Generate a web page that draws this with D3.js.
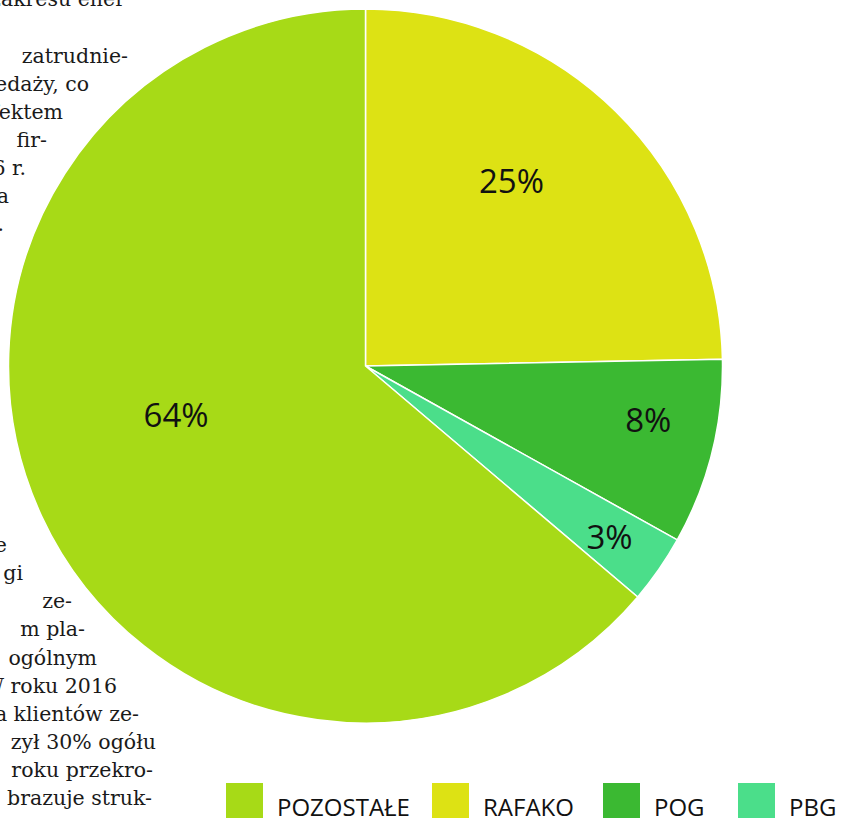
<!DOCTYPE html>
<html>
<head>
<meta charset="utf-8">
<script src="https://cdn.jsdelivr.net/npm/d3@7"></script>
<style>
  body { margin: 0; background: #fff; }
  svg { display: block; }
</style>
</head>
<body>
<div id="chart"></div>
<script>
// Pie data (clockwise from 12 o'clock)
const categories = ["RAFAKO", "POG", "PBG", "POZOSTAŁE"];
const shares = [24.7, 8.4, 3.1, 63.8];
const colors = ["#dde214", "#3bb932", "#4bde8a", "#a7da17"];

// Legend order
const legendOrder = ["POZOSTAŁE", "RAFAKO", "POG", "PBG"];

// Page text left around the chart (fragments of the article column)
const pageText = [
  { t: "zakresu ener", x: 125, y: 6 },
  { t: "zatrudnie-", x: 128, y: 63 },
  { t: "edaży, co", x: 89, y: 91 },
  { t: "fektem", x: 63, y: 119 },
  { t: "fir-", x: 47, y: 147 },
  { t: "6 r.", x: 26, y: 175 },
  { t: "a", x: 9, y: 203 },
  { t: ".", x: 4, y: 231 },
  { t: "e", x: 7, y: 552 },
  { t: "gi", x: 23, y: 580 },
  { t: "ze-", x: 72, y: 608 },
  { t: "m pla-", x: 85, y: 636 },
  { t: "ogólnym", x: 97, y: 665 },
  { t: "W roku 2016", x: 117, y: 693 },
  { t: "a klientów ze-", x: 139, y: 721 },
  { t: "zył 30% ogółu", x: 156, y: 749 },
  { t: "roku przekro-", x: 153, y: 777 },
  { t: "brazuje struk-", x: 152, y: 805 }
];

const W = 850, H = 818;
const cx = 365.5, cy = 366, R = 357;

const svg = d3.select("#chart")
  .append("svg")
  .attr("width", W)
  .attr("height", H);

// Article text behind the pie
svg.append("g")
  .selectAll("text")
  .data(pageText)
  .enter()
  .append("text")
  .attr("x", d => d.x)
  .attr("y", d => d.y)
  .attr("text-anchor", "end")
  .attr("font-family", "DejaVu Serif")
  .attr("font-size", "20.5px")
  .attr("fill", "#1a1a1a")
  .text(d => d.t);

const data = categories.map((c, i) => ({ name: c, value: shares[i], color: colors[i] }));

const pie = d3.pie().sort(null).value(d => d.value);
const arc = d3.arc().innerRadius(0).outerRadius(R);
const labelArc = d3.arc().innerRadius(R * 0.6).outerRadius(R * 0.6);

// Nudges from the label arc centroid (best-fit placement)
const labelNudge = [[-4, -20], [75, 14], [68, 61], [5, -29]];

const g = svg.append("g").attr("transform", `translate(${cx},${cy})`);

const arcs = pie(data);

g.selectAll("path")
  .data(arcs)
  .enter()
  .append("path")
  .attr("d", arc)
  .attr("fill", d => d.data.color)
  .attr("stroke", "#fff")
  .attr("stroke-width", 1.5);

g.selectAll(".label")
  .data(arcs)
  .enter()
  .append("text")
  .attr("class", "label")
  .attr("x", (d, i) => labelArc.centroid(d)[0] + labelNudge[i][0])
  .attr("y", (d, i) => labelArc.centroid(d)[1] + labelNudge[i][1])
  .attr("text-anchor", "middle")
  .attr("font-family", "Open Sans")
  .attr("font-size", "33px")
  .attr("fill", "#111")
  .text(d => Math.round(d.data.value) + "%");

// Legend (item spacing follows label widths)
const legendPos = { "POZOSTAŁE": 226, "RAFAKO": 432, "POG": 603, "PBG": 738 };

const legend = svg.append("g")
  .selectAll("g")
  .data(legendOrder)
  .enter()
  .append("g")
  .attr("transform", d => `translate(${legendPos[d]},783)`);

legend.append("rect")
  .attr("width", 37)
  .attr("height", 38)
  .attr("fill", d => colors[categories.indexOf(d)]);

legend.append("text")
  .attr("x", 51)
  .attr("y", 33)
  .attr("font-family", "Open Sans")
  .attr("font-size", "24px")
  .attr("fill", "#111")
  .text(d => d);
</script>
</body>
</html>
